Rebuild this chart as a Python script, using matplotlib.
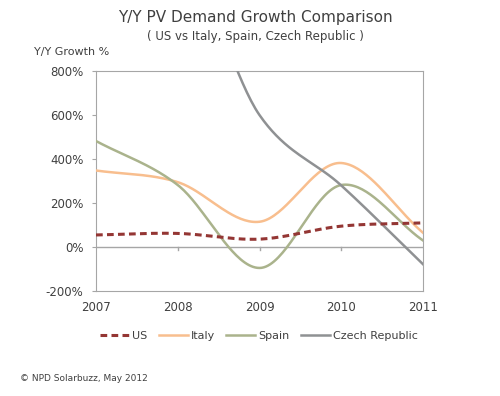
import numpy as np
import matplotlib
matplotlib.use("Agg")
import matplotlib.pyplot as plt
from matplotlib.ticker import FuncFormatter

years = [2007, 2008, 2009, 2010, 2011]
us = [55, 62, 36, 95, 110]
italy = [348, 295, 115, 382, 65]
spain = [482, 282, -95, 282, 30]
czech = [1000, 1350, 600, 280, -78]

series = [("US", us, "#943634", "--"),
          ("Italy", italy, "#F8BE8E", "-"),
          ("Spain", spain, "#AAB38C", "-"),
          ("Czech Republic", czech, "#8F9193", "-")]


def smooth(x, y, n=40):
    # catmull-rom style smoothing like excel's smoothed lines
    x = np.asarray(x, float)
    y = np.asarray(y, float)
    px = np.concatenate([[2 * x[0] - x[1]], x, [2 * x[-1] - x[-2]]])
    py = np.concatenate([[2 * y[0] - y[1]], y, [2 * y[-1] - y[-2]]])
    xs, ys = [], []
    for i in range(1, len(px) - 2):
        t = np.linspace(0, 1, n)
        for arr, out in ((px, xs), (py, ys)):
            p0, p1, p2, p3 = arr[i - 1], arr[i], arr[i + 1], arr[i + 2]
            out.extend(0.5 * (2 * p1 + (-p0 + p2) * t + (2 * p0 - 5 * p1 + 4 * p2 - p3) * t ** 2
                              + (-p0 + 3 * p1 - 3 * p2 + p3) * t ** 3))
    return np.array(xs), np.array(ys)


plt.rcParams['font.family'] = ['DejaVu Sans']
txt = "#404040"
fig = plt.figure(figsize=(5, 3.96), dpi=100)
ax = fig.add_axes([0.192, 0.265, 0.654, 0.5556])

for name, vals, col, ls in series:
    sx, sy = smooth(years, vals)
    if ls == "--":
        ax.plot(sx, sy, color=col, lw=2.2, ls=(0, (2.2, 1.4)), label=name, zorder=4)
    else:
        ax.plot(sx, sy, color=col, lw=1.8, label=name, zorder=3)

ax.axhline(0, color="#A6A6A6", lw=1, zorder=1)
for yr in years[1:-1]:
    ax.plot([yr, yr], [0, -15], color="#A6A6A6", lw=1, zorder=1)

ax.set_xlim(2007, 2011)
ax.set_ylim(-200, 800)
ax.set_xticks(years)
ax.set_yticks(range(-200, 801, 200))
ax.yaxis.set_major_formatter(FuncFormatter(lambda v, p: f"{int(v)}%"))
ax.tick_params(axis='x', length=0, labelsize=8.5, colors=txt, pad=7)
ax.tick_params(axis='y', length=3, labelsize=8.5, colors="#A6A6A6", labelcolor=txt, pad=6)
for s in ax.spines.values():
    s.set_color("#A6A6A6")

fig.text(0.51, 0.955, "Y/Y PV Demand Growth Comparison", ha="center", va="center",
         fontsize=11, color=txt)
fig.text(0.51, 0.908, "( US vs Italy, Spain, Czech Republic )", ha="center", va="center",
         fontsize=8.5, color=txt)
fig.text(0.068, 0.868, "Y/Y Growth %", ha="left", va="center", fontsize=8, color=txt)
fig.text(0.04, 0.043, "\u00a9 NPD Solarbuzz, May 2012", ha="left", va="center",
         fontsize=6.5, color=txt)

fig.legend(loc="center", bbox_to_anchor=(0.518, 0.152), ncol=4, frameon=False,
           fontsize=8, labelcolor=txt, handlelength=2.6, columnspacing=1.0,
           handletextpad=0.3)

fig.savefig("out.png", dpi=100)
